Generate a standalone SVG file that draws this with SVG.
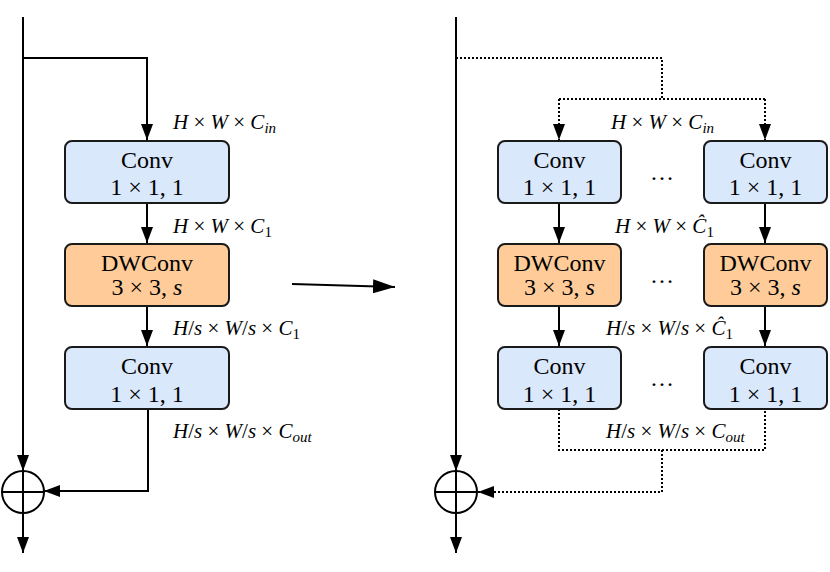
<svg xmlns="http://www.w3.org/2000/svg" width="830" height="572" viewBox="0 0 830 572">
<style>
.box{stroke:#1a1a1a;stroke-width:2}
.conv{fill:#dae8fc}
.dw{fill:#ffcc99}
.t{font-family:"Liberation Serif",serif;font-size:24px;fill:#000;text-anchor:middle}
.m{font-family:"Liberation Serif",serif;font-size:21px;font-style:italic;fill:#000}
.u{font-style:normal}
.sub{font-size:15px}
.ln{fill:none;stroke:#000;stroke-width:2}
.dot{fill:none;stroke:#000;stroke-width:2;stroke-dasharray:2 2}
</style>
<defs>
<marker id="ah" viewBox="0 0 16 12" refX="16" refY="6" markerWidth="16" markerHeight="12" markerUnits="userSpaceOnUse" orient="auto">
<path d="M0,0 L16,6 L0,12 z" fill="#000"/>
</marker>
<marker id="big" viewBox="0 0 22 14" refX="22" refY="7" markerWidth="22" markerHeight="14" markerUnits="userSpaceOnUse" orient="auto">
<path d="M0,0 L22,7 L0,14 z" fill="#000"/>
</marker>
</defs>
<g id="connectors">
<path class="ln" d="M23,17 V471" marker-end="url(#ah)"/>
<path class="ln" d="M23,58 H147 V140" marker-end="url(#ah)"/>
<path class="ln" d="M147,203 V243" marker-end="url(#ah)"/>
<path class="ln" d="M147,306 V346" marker-end="url(#ah)"/>
<path class="ln" d="M148,409 V491 H44" marker-end="url(#ah)"/>
<path class="ln" d="M23,513 V553" marker-end="url(#ah)"/>
<path class="ln" d="M292,284 L395,287" marker-end="url(#big)"/>
<path class="ln" d="M456,17 V471" marker-end="url(#ah)"/>
<path class="dot" d="M456,58 H662 V99"/>
<path class="dot" d="M559,99 H765"/>
<path class="dot" d="M559,99 V140" marker-end="url(#ah)"/>
<path class="dot" d="M765,99 V140" marker-end="url(#ah)"/>
<path class="ln" d="M559,203 V243" marker-end="url(#ah)"/>
<path class="ln" d="M765,203 V243" marker-end="url(#ah)"/>
<path class="ln" d="M559,306 V346" marker-end="url(#ah)"/>
<path class="ln" d="M765,306 V346" marker-end="url(#ah)"/>
<path class="dot" d="M559,409 V450 H765 V409"/>
<path class="dot" d="M662,450 V492 H478" marker-end="url(#ah)"/>
<path class="ln" d="M456,513 V553" marker-end="url(#ah)"/>
</g>
<g id="add-left">
<circle cx="23" cy="492" r="21" class="ln"/>
<path class="ln" d="M2,492 H44 M23,471 V513"/>
</g>
<g id="add-right">
<circle cx="456" cy="492" r="21" class="ln"/>
<path class="ln" d="M435,492 H477 M456,471 V513"/>
</g>
<g id="conv1-left">
<rect class="box conv" x="65" y="141" width="164" height="62" rx="7"/>
<text class="t" x="147" y="168">Conv</text>
<text class="t" x="147" y="195">1 × 1, 1</text>
</g>
<g id="dwconv-left">
<rect class="box dw" x="65" y="244" width="164" height="62" rx="7"/>
<text class="t" x="147" y="271">DWConv</text>
<text class="t" x="147" y="295">3 × 3, <tspan font-style="italic">s</tspan></text>
</g>
<g id="conv2-left">
<rect class="box conv" x="65" y="347" width="164" height="62" rx="7"/>
<text class="t" x="147" y="374">Conv</text>
<text class="t" x="147" y="402">1 × 1, 1</text>
</g>
<g id="labels-left">
<text class="m" x="173" y="129">H <tspan class="u">×</tspan> W <tspan class="u">×</tspan> C<tspan class="sub" dy="4">in</tspan></text>
<text class="m" x="173" y="233">H <tspan class="u">×</tspan> W <tspan class="u">×</tspan> C<tspan class="sub u" dy="4">1</tspan></text>
<text class="m" x="173" y="335">H<tspan class="u">/</tspan>s <tspan class="u">×</tspan> W<tspan class="u">/</tspan>s <tspan class="u">×</tspan> C<tspan class="sub u" dy="4">1</tspan></text>
<text class="m" x="173" y="438">H<tspan class="u">/</tspan>s <tspan class="u">×</tspan> W<tspan class="u">/</tspan>s <tspan class="u">×</tspan> C<tspan class="sub" dy="4">out</tspan></text>
</g>
<g id="conv1-a">
<rect class="box conv" x="498" y="141" width="123" height="62" rx="7"/>
<text class="t" x="559.5" y="168">Conv</text>
<text class="t" x="559.5" y="195">1 × 1, 1</text>
</g>
<g id="conv1-b">
<rect class="box conv" x="704" y="141" width="123" height="62" rx="7"/>
<text class="t" x="765.5" y="168">Conv</text>
<text class="t" x="765.5" y="195">1 × 1, 1</text>
</g>
<g id="dwconv-a">
<rect class="box dw" x="498" y="244" width="123" height="62" rx="7"/>
<text class="t" x="559.5" y="271">DWConv</text>
<text class="t" x="559.5" y="295">3 × 3, <tspan font-style="italic">s</tspan></text>
</g>
<g id="dwconv-b">
<rect class="box dw" x="704" y="244" width="123" height="62" rx="7"/>
<text class="t" x="765.5" y="271">DWConv</text>
<text class="t" x="765.5" y="295">3 × 3, <tspan font-style="italic">s</tspan></text>
</g>
<g id="conv2-a">
<rect class="box conv" x="498" y="347" width="123" height="62" rx="7"/>
<text class="t" x="559.5" y="374">Conv</text>
<text class="t" x="559.5" y="402">1 × 1, 1</text>
</g>
<g id="conv2-b">
<rect class="box conv" x="704" y="347" width="123" height="62" rx="7"/>
<text class="t" x="765.5" y="374">Conv</text>
<text class="t" x="765.5" y="402">1 × 1, 1</text>
</g>
<g id="ellipses">
<text class="t" x="662" y="180" font-size="20">…</text>
<text class="t" x="662" y="283" font-size="20">…</text>
<text class="t" x="662" y="386" font-size="20">…</text>
</g>
<g id="labels-right">
<text class="m" x="611" y="129">H <tspan class="u">×</tspan> W <tspan class="u">×</tspan> C<tspan class="sub" dy="4">in</tspan></text>
<text class="m" x="615" y="233">H <tspan class="u">×</tspan> W <tspan class="u">×</tspan> Ĉ<tspan class="sub u" dy="4">1</tspan></text>
<text class="m" x="606" y="335">H<tspan class="u">/</tspan>s <tspan class="u">×</tspan> W<tspan class="u">/</tspan>s <tspan class="u">×</tspan> Ĉ<tspan class="sub u" dy="4">1</tspan></text>
<text class="m" x="606" y="438">H<tspan class="u">/</tspan>s <tspan class="u">×</tspan> W<tspan class="u">/</tspan>s <tspan class="u">×</tspan> C<tspan class="sub" dy="4">out</tspan></text>
</g>
</svg>
